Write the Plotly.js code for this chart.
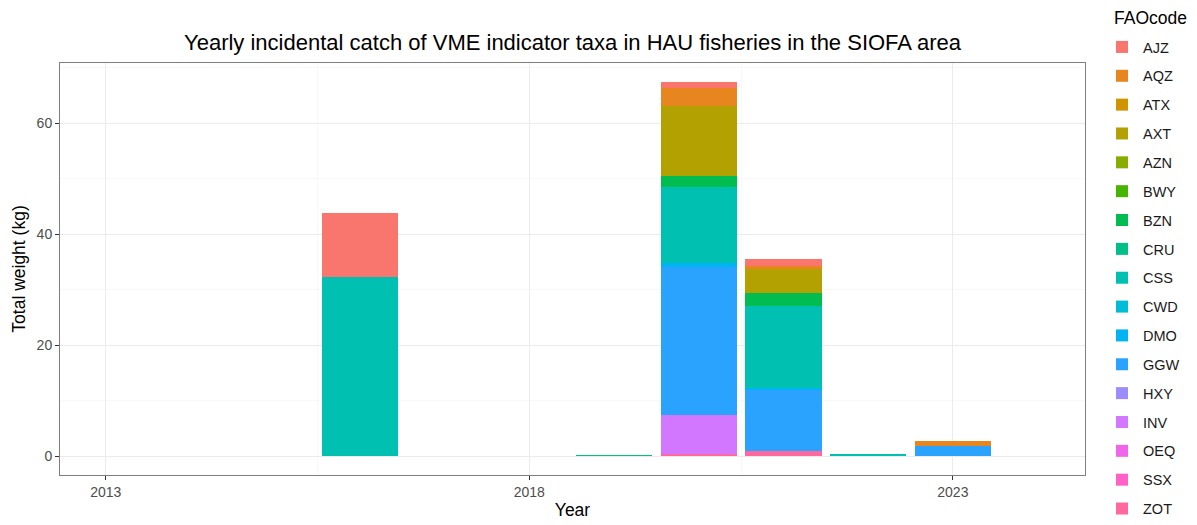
<!DOCTYPE html>
<html>
<head>
<meta charset="utf-8">
<script src="https://cdn.plot.ly/plotly-3.0.1.min.js"></script>
<style>html,body{margin:0;padding:0;background:#fff;}#chart{width:1197px;height:525px;}</style>
</head>
<body>
<div id="chart"></div>
<script>
// ---- data ----
const years = [2016, 2019, 2020, 2021, 2022, 2023];
const codes = ["AJZ","AQZ","ATX","AXT","AZN","BWY","BZN","CRU","CSS","CWD","DMO","GGW","HXY","INV","OEQ","SSX","ZOT"];
const AJZ = [11.5, null, 1.05, 1.2, null, null];
const AQZ = [null, null, 3.2, 0.6, null, 1.0];
const ATX = [null, null, null, null, null, null];
const AXT = [null, null, 12.6, 4.3, null, null];
const AZN = [null, null, null, null, null, null];
const BWY = [null, null, null, null, null, null];
const BZN = [null, null, 2.0, 2.3, null, null];
const CRU = [null, 0.3, null, null, null, null];
const CSS = [32.3, null, 13.7, 14.75, 0.45, null];
const CWD = [null, null, null, null, null, null];
const DMO = [null, null, 0.8, 0.4, null, null];
const GGW = [null, null, 26.7, 11.0, null, 1.8];
const HXY = [null, null, null, null, null, null];
const INV = [null, null, 6.9, null, null, null];
const OEQ = [null, null, null, null, null, null];
const SSX = [null, null, null, null, null, null];
const ZOT = [null, null, 0.5, 0.95, null, null];
const series = {AJZ,AQZ,ATX,AXT,AZN,BWY,BZN,CRU,CSS,CWD,DMO,GGW,HXY,INV,OEQ,SSX,ZOT};
const xTicks = [2013, 2018, 2023];
const yTicks = [0, 20, 40, 60];

// ggplot2 default hue palette (HCL, c=100, l=65)
function hcl(h, c, l) {
  const hr = h * Math.PI / 180;
  const U = c * Math.cos(hr), V = c * Math.sin(hr);
  const Xn = 95.047, Yn = 100, Zn = 108.883;
  const Y = l > 8 ? Yn * Math.pow((l + 16) / 116, 3) : Yn * l / 903.3;
  const t = Xn + 15 * Yn + 3 * Zn;
  const un = 4 * Xn / t, vn = 9 * Yn / t;
  const u = U / (13 * l) + un, v = V / (13 * l) + vn;
  const X = 9 * Y * u / (4 * v);
  const Z = -X / 3 - 5 * Y + 3 * Y / v;
  const x = X / 100, y = Y / 100, z = Z / 100;
  let r = 3.240479 * x - 1.537150 * y - 0.498535 * z;
  let g = -0.969256 * x + 1.875992 * y + 0.041556 * z;
  let b = 0.055648 * x - 0.204043 * y + 1.057311 * z;
  const gam = s => s <= 0.0031308 ? 12.92 * s : 1.055 * Math.pow(s, 1 / 2.4) - 0.055;
  const to = s => Math.round(Math.min(1, Math.max(0, gam(s))) * 255);
  return 'rgb(' + to(r) + ',' + to(g) + ',' + to(b) + ')';
}
const n = codes.length;
const colors = codes.map((c, i) => hcl(15 + 360 * i / n, 100, 65));

// stack order: ZOT at bottom, AJZ on top; legend: AJZ first
const traces = [];
for (let i = n - 1; i >= 0; i--) {
  const c = codes[i];
  traces.push({
    type: 'bar', name: c, x: years, y: series[c], width: 0.9,
    legendgroup: c, legendrank: i + 1,
    marker: {color: colors[i], line: {width: 0}},
    hoverinfo: 'name+y'
  });
}

const fontFam = '"Liberation Sans", Arial, sans-serif';
const layout = {
  width: 1197, height: 525,
  margin: {l: 60, r: 112, t: 63, b: 50},
  paper_bgcolor: '#fff', plot_bgcolor: '#fff',
  barmode: 'stack',
  font: {family: fontFam, color: '#000'},
  title: {text: 'Yearly incidental catch of VME indicator taxa in HAU fisheries in the SIOFA area',
          font: {size: 22, color: '#000', family: fontFam},
          x: 0.5, xref: 'paper', y: 1 - 42 / 525, yref: 'container', yanchor: 'middle'},
  xaxis: {
    range: [2012.46, 2024.56], tickvals: xTicks, ticktext: xTicks.map(String),
    showgrid: true, gridcolor: '#ebebeb', gridwidth: 1.1,
    minor: {tick0: 2010.5, dtick: 5, showgrid: true, gridcolor: '#f3f3f3', gridwidth: 0.6, ticks: ''},
    zeroline: false, showline: true, mirror: true, linecolor: '#7f7f7f', linewidth: 1,
    ticks: 'outside', ticklen: 4, tickcolor: '#333', tickwidth: 1,
    tickfont: {size: 14, color: '#4d4d4d'},
    title: {text: 'Year', font: {size: 17.5, color: '#000'}, standoff: 4}
  },
  yaxis: {
    range: [-3.375, 70.875], tickvals: yTicks, ticktext: yTicks.map(String),
    showgrid: true, gridcolor: '#ebebeb', gridwidth: 1.1,
    minor: {tick0: 10, dtick: 20, showgrid: true, gridcolor: '#f3f3f3', gridwidth: 0.6, ticks: ''},
    zeroline: false, showline: true, mirror: true, linecolor: '#7f7f7f', linewidth: 1,
    ticks: 'outside', ticklen: 4, tickcolor: '#333', tickwidth: 1,
    tickfont: {size: 14, color: '#4d4d4d'},
    title: {text: 'Total weight (kg)', font: {size: 17.5, color: '#000'}, standoff: 6}
  },
  legend: {
    x: 1.0156, xanchor: 'left', y: 1.073, yanchor: 'top',
    traceorder: 'grouped', tracegroupgap: 7, maxheight: 520, itemwidth: 32,
    font: {size: 14.5, color: '#1a1a1a'},
    bgcolor: 'rgba(0,0,0,0)', itemclick: false
  },
  annotations: [{
    text: 'FAOcode', xref: 'paper', yref: 'paper', x: 1.0, xshift: 27, y: 1 + 45 / 412,
    xanchor: 'left', yanchor: 'middle', showarrow: false,
    font: {size: 17.5, color: '#000'}
  }],
  showlegend: true
};
Plotly.newPlot('chart', traces, layout, {displayModeBar: false, staticPlot: true});
</script>
</body>
</html>
